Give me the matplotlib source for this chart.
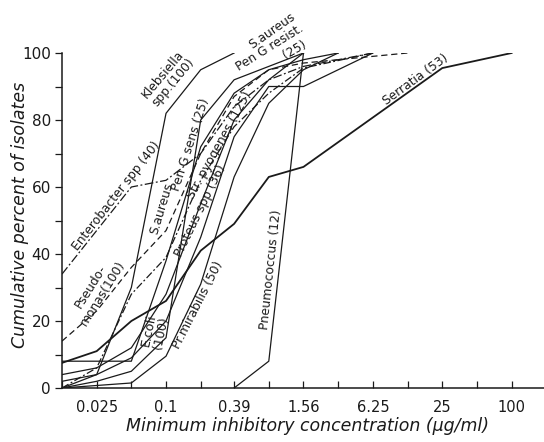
import numpy as np
import matplotlib.pyplot as plt

# MIC steps (ug/ml), each one doubles the one before
nong_do = [0.0125, 0.025, 0.05, 0.1, 0.2, 0.39, 0.78, 1.56, 3.12, 6.25, 12.5, 25, 50, 100]
nhan_x = ['', '0.025', '', '0.1', '', '0.39', '', '1.56', '', '6.25', '', '25', '', '100']

# cumulative percent of isolates (step index, percent)
kleb_buoc = [0, 1, 2, 3, 4, 5]
kleb_pt = [0, 4, 30, 82, 95, 100]

sa_sens_buoc = [0, 1, 2, 3, 4, 5, 6, 7]
sa_sens_pt = [0, 2, 5, 15, 80, 92, 96, 100]

sa_resist_buoc = [0, 1, 2, 3, 4, 5, 6, 7, 9]
sa_resist_pt = [2, 4, 9, 20, 45, 75, 90, 90, 100]

entero_buoc = [0, 1, 2, 3, 4, 5, 6, 7, 9]
entero_pt = [34, 47, 60, 62, 70, 84, 92, 96, 100]

pseudo_buoc = [0, 1, 2, 3, 4, 5, 6, 7, 8, 10]
pseudo_pt = [14, 23, 36, 47, 70, 87, 95, 97, 98, 100]

ecoli_buoc = [0, 1, 2, 3, 4, 5, 6, 7, 8]
ecoli_pt = [8, 8, 8, 38, 72, 88, 95, 98, 100]

mirab_buoc = [0, 2, 3, 4, 5, 6, 7, 8]
mirab_pt = [0, 1.5, 9.5, 31, 63, 85, 95, 100]

proteus_buoc = [0, 1, 2, 3, 4, 5, 6, 7]
proteus_pt = [4, 6, 12, 28, 55, 80, 92, 100]

strep_buoc = [0, 1, 2, 3, 4, 5, 6, 7, 9]
strep_pt = [0, 6, 28, 39, 62, 78, 88, 95.5, 100]

pneumo_buoc = [5, 6, 7]
pneumo_pt = [0, 8, 100]

serratia_buoc = [0, 1, 2, 3, 4, 5, 6, 7, 11, 13]
serratia_pt = [7.5, 11, 20, 26, 41, 49, 63, 66, 95.5, 100]

mau = '#1a1a1a'


def ve_duong(ax, buoc, pt, kieu='-', day=0.9):
    x = [nong_do[i] for i in buoc]
    ax.plot(x, pt, color=mau, linestyle=kieu, linewidth=day)


def ghi_nhan(ax, chu, buoc, pt, goc, co=8.8):
    ax.text(nong_do[0] * 2 ** buoc, pt, chu, rotation=goc, rotation_mode='anchor',
            ha='center', va='center', fontsize=co, color=mau,
            multialignment='center', linespacing=1.0, clip_on=False)


fig = plt.figure(figsize=(5.44, 4.42), dpi=100)
ax = fig.add_axes([62 / 544, 54 / 442, 482 / 544, 335 / 442])

ve_duong(ax, kleb_buoc, kleb_pt)
ve_duong(ax, sa_sens_buoc, sa_sens_pt)
ve_duong(ax, sa_resist_buoc, sa_resist_pt)
ve_duong(ax, entero_buoc, entero_pt, kieu=(0, (7, 2, 1.5, 2)))
ve_duong(ax, pseudo_buoc, pseudo_pt, kieu=(0, (5, 3)))
ve_duong(ax, ecoli_buoc, ecoli_pt)
ve_duong(ax, mirab_buoc, mirab_pt)
ve_duong(ax, proteus_buoc, proteus_pt)
ve_duong(ax, strep_buoc, strep_pt, kieu=(0, (6, 2, 1.5, 2)))
ve_duong(ax, pneumo_buoc, pneumo_pt)
ve_duong(ax, serratia_buoc, serratia_pt, day=1.3)

ghi_nhan(ax, 'Klebsiella\nspp.(100)', 3.05, 92.5, 50)
ghi_nhan(ax, 'S.aureus', 2.88, 53.7, 73)
ghi_nhan(ax, 'Pen G sens (25)', 3.72, 72.5, 72)
ghi_nhan(ax, 'S.aureus', 6.05, 106.5, 35)
ghi_nhan(ax, 'Pen G resist.', 6.0, 101.5, 32)
ghi_nhan(ax, '(25)', 6.7, 101.0, 30)
ghi_nhan(ax, 'Enterobacter spp (40)', 1.56, 57.3, 52)
ghi_nhan(ax, 'Pseudo-\nmonas(100)', 1.0, 29.3, 58)
ghi_nhan(ax, 'E.coli\n(100)', 2.68, 16.7, 78)
ghi_nhan(ax, 'Pr.mirabilis (50)', 3.92, 24.8, 63)
ghi_nhan(ax, 'Proteus spp (36)', 4.0, 52.8, 64)
ghi_nhan(ax, 'Str. pyogenes (125)', 4.55, 72.5, 61)
ghi_nhan(ax, 'Pneumococcus (12)', 6.02, 35.2, 84)
ghi_nhan(ax, 'Serratia (53)', 10.2, 92, 36)

ax.set_xscale('log', base=2)
ax.set_xlim(nong_do[0], nong_do[0] * 2 ** 13.9)
ax.set_ylim(0, 100)
ax.set_xticks(nong_do)
ax.set_xticklabels(nhan_x)
ax.xaxis.set_minor_locator(plt.NullLocator())
ax.set_yticks([0, 20, 40, 60, 80, 100])
ax.set_yticks([10, 30, 50, 70, 90], minor=True)

ax.spines['top'].set_visible(False)
ax.spines['right'].set_visible(False)
for s in ['left', 'bottom']:
    ax.spines[s].set_color(mau)
    ax.spines[s].set_linewidth(1.1)
ax.tick_params(axis='x', direction='in', length=5, width=0.9, pad=9, labelsize=10.5, colors=mau)
ax.tick_params(axis='y', which='both', direction='out', length=5, width=0.9, pad=3, labelsize=11, colors=mau)

fig.text(20 / 544, 1 - 215 / 442, 'Cumulative percent of isolates', rotation=90,
         ha='center', va='center', fontsize=12.5, style='italic', color=mau)
fig.text(308 / 544, 1 - 426 / 442, 'Minimum inhibitory concentration (\u03bcg/ml)',
         ha='center', va='center', fontsize=12.5, style='italic', color=mau)

fig.savefig('out.png', dpi=100)
